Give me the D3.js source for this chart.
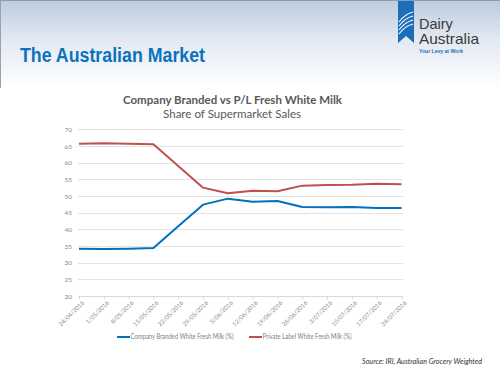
<!DOCTYPE html>
<html>
<head>
<meta charset="utf-8">
<script src="https://cdn.jsdelivr.net/npm/d3@7"></script>
<style>
  body { margin: 0; background: #fff; }
  svg { display: block; }
</style>
</head>
<body>
<script>
var weeks = ["24/04/2016", "1/05/2016", "8/05/2016", "15/05/2016", "22/05/2016", "29/05/2016",
    "5/06/2016", "12/06/2016", "19/06/2016", "26/06/2016", "3/07/2016", "10/07/2016",
    "17/07/2016", "24/07/2016"];
var branded = [34.2, 34.1, 34.2, 34.4, 40.9, 47.4, 49.2, 48.3, 48.5, 46.7, 46.6, 46.7, 46.4, 46.4];
var privateLabel = [65.7, 65.8, 65.7, 65.5, 59.0, 52.5, 50.8, 51.6, 51.4, 53.1, 53.3, 53.4, 53.7, 53.5];
var yTicks = [20, 25, 30, 35, 40, 45, 50, 55, 60, 65, 70];
var seriesNames = ["Company Branded White Fresh Milk (%)", "Private Label White Fresh Milk (%)"];
var seriesColors = ["#0070c0", "#c0504d"];

var width = 500, height = 375;
var svg = d3.select("body").append("svg").attr("width", width).attr("height", height);

// header band
var defs = svg.append("defs");
var grad = defs.append("linearGradient").attr("id", "hdr").attr("x1", 0).attr("y1", 0).attr("x2", 0).attr("y2", 1);
grad.append("stop").attr("offset", "0%").attr("stop-color", "#bccbdf");
grad.append("stop").attr("offset", "45%").attr("stop-color", "#e2e9f2");
grad.append("stop").attr("offset", "100%").attr("stop-color", "#ffffff");
svg.append("rect").attr("x", 0).attr("y", 0).attr("width", width).attr("height", 88).attr("fill", "url(#hdr)");
svg.append("line").attr("x1", 0).attr("x2", width).attr("y1", 0.5).attr("y2", 0.5).attr("stroke", "#8c9bb0");
svg.append("line").attr("x1", 0.5).attr("x2", 0.5).attr("y1", 0).attr("y2", 88).attr("stroke", "#9aa3ad");

svg.append("text")
    .attr("x", 20).attr("y", 62)
    .attr("font-family", "Liberation Sans, Arial, sans-serif")
    .attr("font-weight", "bold").attr("font-size", 19.5)
    .attr("textLength", 185).attr("lengthAdjust", "spacingAndGlyphs")
    .attr("fill", "#0b72bd")
    .text("The Australian Market");

// logo
var logo = svg.append("g");
logo.append("path").attr("d", "M398,1 L414,1 L414,43 L406,36 L398,43 Z").attr("fill", "#1a6fb8");
[0, 4, 8, 12].forEach(function (d) {
    logo.append("path")
        .attr("d", "M399," + (22 + d) + " Q405," + (14 + d) + " 413," + (12 + d))
        .attr("fill", "none").attr("stroke", "#fff").attr("stroke-width", 1.2);
});
logo.append("text").attr("x", 419).attr("y", 29)
    .attr("font-family", "Liberation Sans, Arial, sans-serif").attr("font-size", 14.5)
    .attr("fill", "#3a3a3a").text("Dairy");
logo.append("text").attr("x", 419).attr("y", 43.5)
    .attr("font-family", "Liberation Sans, Arial, sans-serif").attr("font-size", 14.5)
    .attr("textLength", 60).attr("lengthAdjust", "spacingAndGlyphs")
    .attr("fill", "#3a3a3a").text("Australia");
logo.append("text").attr("x", 419).attr("y", 53)
    .attr("font-family", "Liberation Sans, Arial, sans-serif").attr("font-size", 5.5)
    .attr("font-weight", "bold")
    .attr("textLength", 44).attr("lengthAdjust", "spacingAndGlyphs")
    .attr("fill", "#1a6fb8").text("Your Levy at Work");

// chart titles
svg.append("text").attr("x", 232.5).attr("y", 103.5).attr("text-anchor", "middle")
    .attr("font-family", "Lato, Open Sans, sans-serif").attr("font-weight", "bold").attr("font-size", 10.5)
    .attr("textLength", 219).attr("lengthAdjust", "spacingAndGlyphs")
    .attr("fill", "#595959").text("Company Branded vs P/L Fresh White Milk");
svg.append("text").attr("x", 232).attr("y", 117.5).attr("text-anchor", "middle")
    .attr("font-family", "Lato, Open Sans, sans-serif").attr("font-size", 10.5)
    .attr("textLength", 138).attr("lengthAdjust", "spacingAndGlyphs")
    .attr("fill", "#595959").text("Share of Supermarket Sales");

// scales
var x = d3.scalePoint().domain(weeks).range([79, 401.5]);
var y = d3.scaleLinear().domain([20, 70]).range([296, 129.3]);

// gridlines
svg.append("g").selectAll("line").data(yTicks.filter(function (d) { return d > 20; })).enter().append("line")
    .attr("x1", 78).attr("x2", 403)
    .attr("y1", function (d) { return Math.round(y(d)) + 0.5; })
    .attr("y2", function (d) { return Math.round(y(d)) + 0.5; })
    .attr("stroke", "#e3e3e3").attr("stroke-width", 1);

// y labels
var yAxis = svg.append("g").attr("transform", "translate(78,0)")
    .call(d3.axisLeft(y).tickValues(yTicks).tickSize(0).tickPadding(6));
yAxis.select(".domain").remove();
yAxis.selectAll("text").attr("font-family", "Lato, Open Sans, sans-serif").attr("font-size", 6.5).attr("fill", "#8a8a8a");

// x axis
var xAxis = svg.append("g").attr("transform", "translate(0," + (Math.round(y(20)) + 0.5) + ")")
    .call(d3.axisBottom(x).tickSize(3).tickSizeOuter(0));
xAxis.select(".domain").attr("stroke", "#d9d9d9").attr("d", "M78,0H403");
xAxis.selectAll(".tick line").attr("stroke", "#d9d9d9");
xAxis.selectAll("text")
    .attr("font-family", "Lato, Open Sans, sans-serif").attr("font-size", 6).attr("fill", "#8a8a8a")
    .attr("text-anchor", "end")
    .attr("dx", "-0.2em").attr("dy", "0.4em")
    .attr("transform", "rotate(-45)");

// lines
var line = d3.line()
    .x(function (d, i) { return x(weeks[i]); })
    .y(function (d) { return y(d); });

[branded, privateLabel].forEach(function (s, k) {
    svg.append("path")
        .attr("d", line(s))
        .attr("fill", "none")
        .attr("stroke", seriesColors[k])
        .attr("stroke-width", 2)
        .attr("stroke-linejoin", "round");
});

// legend
var legendX = [117, 249];
var legend = svg.append("g").selectAll("g").data(seriesNames).enter().append("g")
    .attr("transform", function (d, i) { return "translate(" + legendX[i] + ",337)"; });
legend.append("line").attr("x1", 0).attr("x2", 13).attr("y1", 0).attr("y2", 0)
    .attr("stroke", function (d, i) { return seriesColors[i]; }).attr("stroke-width", 2);
legend.append("text").attr("x", 13.5).attr("y", 2.3)
    .attr("font-family", "Lato, Open Sans, sans-serif").attr("font-size", 6.8).attr("fill", "#7f7f7f")
    .attr("textLength", function (d, i) { return i === 0 ? 103 : 89; })
    .attr("lengthAdjust", "spacingAndGlyphs")
    .text(function (d) { return d; });

// source
svg.append("text").attr("x", 482).attr("y", 364).attr("text-anchor", "end")
    .attr("font-family", "Lato, Open Sans, sans-serif").attr("font-style", "italic").attr("font-size", 7)
    .attr("textLength", 120).attr("lengthAdjust", "spacingAndGlyphs")
    .attr("fill", "#333").text("Source: IRI, Australian Grocery Weighted");
</script>
</body>
</html>
